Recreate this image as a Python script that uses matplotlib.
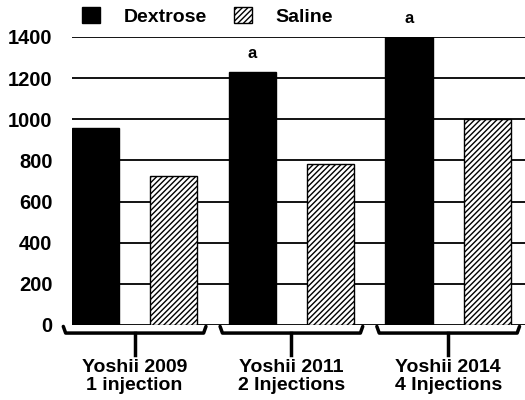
import matplotlib.pyplot as plt
import numpy as np

plt.rcParams['font.family'] = ['Liberation Sans', 'DejaVu Sans']
plt.rcParams['hatch.linewidth'] = 1.0

groups = ['Yoshii 2009\n1 injection', 'Yoshii 2011\n2 Injections', 'Yoshii 2014\n4 Injections']
dextrose = [957, 1228, 1400]
saline = [724, 783, 1000]
marks = ['', 'a', 'a']
yticks = [0, 200, 400, 600, 800, 1000, 1200, 1400]

fig = plt.figure(figsize=(5.25, 4), dpi=100)
ax = fig.add_axes([0.137, 0.1875, 0.863, 0.72])

g = np.arange(len(groups)) * 2
w = 0.6
for y in yticks:
    ax.axhline(y, color='black', lw=1.3, zorder=0)
b1 = ax.bar(g, dextrose, w, color='black', edgecolor='black', label='Dextrose', zorder=2)
b2 = ax.bar(g + 1, saline, w, color='white', edgecolor='black', hatch='//////', lw=1,
            label='Saline', zorder=2)

for x, v, m in zip(g, dextrose, marks):
    if m:
        ax.text(x, v + 55, m, ha='center', va='bottom', fontsize=12, fontweight='bold')

ax.set_xlim(-0.3, 5.48)
ax.set_ylim(0, 1400)
ax.set_yticks(yticks)
ax.set_yticklabels([str(t) for t in yticks], fontsize=14.5, fontweight='bold')
ax.tick_params(axis='y', length=0, pad=14)
ax.set_xticks([])
for s in ax.spines.values():
    s.set_visible(False)

# curly brackets under each group
tr = ax.get_xaxis_transform()
for x in g:
    l, r, c = x - 0.41, x + 1.41, x + 0.5
    ax.plot([l, l + 0.03, r - 0.03, r], [-0.005, -0.028, -0.028, -0.005], color='black',
            lw=2.5, transform=tr, clip_on=False, solid_capstyle='round')
    ax.plot([c, c], [-0.028, -0.105], color='black', lw=2.5, transform=tr, clip_on=False)

for x, lab in zip(g, groups):
    ax.text(x + 0.5, -0.118, lab, ha='center', va='top', fontsize=14, fontweight='bold',
            transform=tr, linespacing=1.08)

fig.legend(loc='center left', bbox_to_anchor=(0.156, 0.959), ncol=2, frameon=False,
           prop={'weight': 'bold', 'size': 14}, handlelength=0.93, handleheight=0.93,
           columnspacing=1.4, handletextpad=1.2, borderpad=0, borderaxespad=0)

fig.savefig('out.png', dpi=100)
